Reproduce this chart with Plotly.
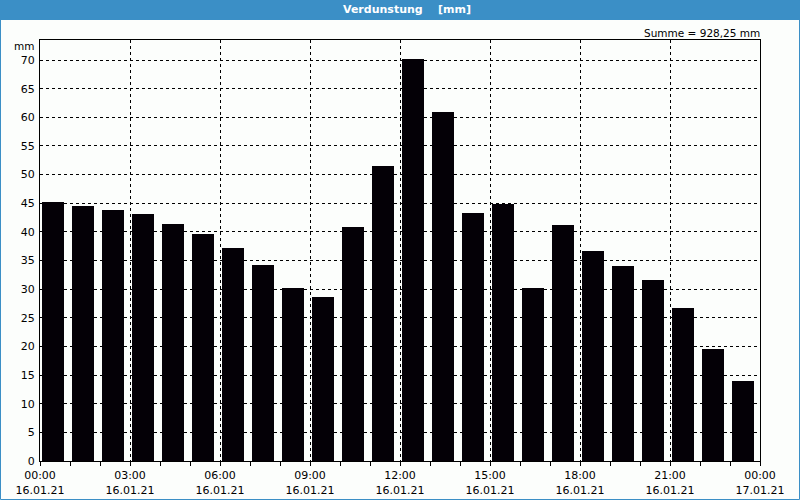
import plotly.graph_objects as go

hours = list(range(24))
values = [45.2, 44.5, 43.8, 43.1, 41.4, 39.6, 37.2, 34.2, 30.2, 28.6,
          40.9, 51.5, 70.2, 60.9, 43.3, 44.9, 30.2, 41.2, 36.6, 34.0,
          31.6, 26.7, 19.6, 13.9]
tick_hours = [0, 3, 6, 9, 12, 15, 18, 21, 24]
tick_labels = ["00:00<br>16.01.21", "03:00<br>16.01.21", "06:00<br>16.01.21",
               "09:00<br>16.01.21", "12:00<br>16.01.21", "15:00<br>16.01.21",
               "18:00<br>16.01.21", "21:00<br>16.01.21", "00:00<br>17.01.21"]
title_text = "Verdunstung\u00a0\u00a0\u00a0\u00a0[mm]"
sum_text = "Summe = 928,25 mm"
unit_text = "mm"

BG = "#fcfefc"
BLUE = "#3b8fc6"
FONT = "DejaVu Sans"

# plot area geometry in px
L, R, T, B = 40, 40, 40, 39
W, H = 800, 500
pw, ph = W - L - R, H - T - B

def px_x(x):
    return (x - L) / pw

def px_y(y):
    return (H - B - y) / ph

fig = go.Figure()
fig.add_trace(go.Bar(
    x=[h + 0.433 for h in hours], y=values, width=0.733,
    marker=dict(color="#040006", line=dict(width=0)),
    hoverinfo="skip",
))

fig.update_layout(
    width=W, height=H,
    margin=dict(l=L, r=R, t=T, b=B, pad=0, autoexpand=False),
    paper_bgcolor=BG, plot_bgcolor=BG,
    showlegend=False,
    font=dict(family=FONT, size=11, color="#000000"),
    bargap=0,
)
fig.update_xaxes(
    range=[0, 24], tickmode="array", tickvals=tick_hours, ticktext=tick_labels,
    showgrid=True, gridcolor="#000000", gridwidth=1, griddash="3px,3px",
    ticks="outside", ticklen=4, tickcolor="#000000",
    minor=dict(dtick=1, tick0=0, ticks="outside", ticklen=4, tickcolor="#000000", showgrid=False),
    showline=True, linecolor="#000000", linewidth=1, mirror=True,
    zeroline=False, tickfont=dict(size=11), automargin=False,
)
fig.update_yaxes(
    range=[0, 73.5], dtick=5, tick0=0,
    showgrid=True, gridcolor="#000000", gridwidth=1, griddash="3px,3px",
    ticks="", showline=True, linecolor="#000000", linewidth=1, mirror=True,
    zeroline=False, tickfont=dict(size=11), ticklabelstandoff=2, automargin=False,
)

shapes = [
    # title bar
    dict(type="rect", xref="paper", yref="paper", x0=px_x(0), x1=px_x(W), y0=px_y(20), y1=px_y(0),
         fillcolor=BLUE, line=dict(width=0), layer="above"),
    # outer border
    dict(type="rect", xref="paper", yref="paper", x0=px_x(0.5), x1=px_x(W - 0.5), y0=px_y(H - 0.5), y1=px_y(0.5),
         fillcolor="rgba(0,0,0,0)", line=dict(width=1, color=BLUE), layer="above"),
]
fig.update_layout(shapes=shapes)

fig.add_annotation(text="<b>" + title_text + "</b>", xref="paper", yref="paper",
                   x=px_x(407), y=px_y(10), xanchor="center", yanchor="middle",
                   showarrow=False, font=dict(color="#ffffff", size=11, family=FONT))
fig.add_annotation(text=sum_text, xref="paper", yref="paper",
                   x=px_x(762), y=px_y(33), xanchor="right", yanchor="middle",
                   showarrow=False, font=dict(size=10.5, family=FONT))
fig.add_annotation(text=unit_text, xref="paper", yref="paper",
                   x=px_x(36), y=px_y(46), xanchor="right", yanchor="middle",
                   showarrow=False, font=dict(size=10.5, family=FONT))

fig.write_html("out.html")
